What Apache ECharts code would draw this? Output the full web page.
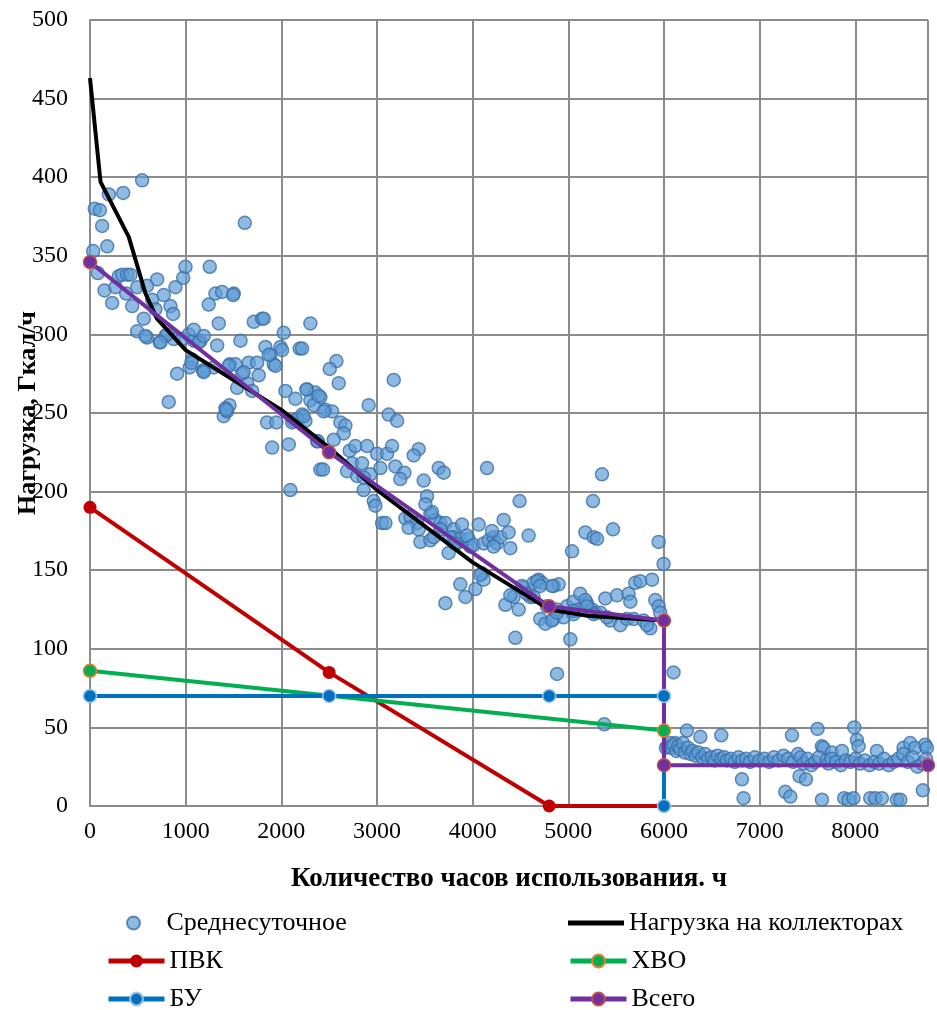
<!DOCTYPE html>
<html>
<head>
<meta charset="utf-8">
<script src="https://cdn.jsdelivr.net/npm/echarts@6/dist/echarts.min.js"></script>
<style>
html,body{margin:0;padding:0;background:#fff;}
#chart{width:937px;height:1010px;}
</style>
</head>
<body>
<div id="chart"></div>
<script>
// ---- data ----
const seriesNames = ['Среднесуточное', 'Нагрузка на коллекторах', 'ПВК', 'ХВО', 'БУ', 'Всего'];

const dailyPoints = [
  // 0-1000 h
  [545,398],[197,389],[347,390],[50,380],[103,379],[127,369],[180,356],[33,353],[82,339],[152,328],
  [232,320],[266,330],[301,337],[336,338],[389,338],[423,338],[378,326],[441,318],[493,330],[597,331],
  [702,335],[771,325],[493,302],[597,298],[562,310],[650,322],[684,316],[841,318],[869,313],[893,330],
  [974,336],[998,343],[729,295],[789,299],[876,297],[963,297],[911,275],[823,257],[807,300],[737,295],[580,299],
  // 1000-2000 h
  [1032,300],[1085,296],[1155,296],[1068,284],[1043,279],[1183,277],[1252,343],[1329,293],[1294,279],[1346,307],
  [1241,319],[1311,326],[1381,327],[1503,326],[1461,281],[1520,281],[1573,296],[1659,282],[1747,282],[1764,274],
  [1538,266],[1643,269],[1695,264],[1712,308],[1799,310],[1816,310],[1834,292],[1886,287],[1921,281],[1991,292],
  [1618,371],[1085,303],[1137,295],[1061,282],[1189,277],[1590,275],[1189,299],[1189,276],[1607,276],[1450,280],
  [1398,248],[1434,251],[1458,255],[1416,253],[1851,244],[1949,244],[1904,228],[1868,287],[1938,280],[1426,252],[1496,325],
  // 2000-3000 h
  [2025,301],[2192,291],[2304,307],[2043,264],[2147,259],[2270,265],[2356,263],[2217,291],[2576,283],[2506,278],
  [2600,269],[2408,260],[2304,258],[2913,255],[2461,252],[2531,251],[2078,230],[2095,201],[2130,245],[2217,249],
  [2252,245],[2339,255],[2374,232],[2408,214],[2008,290],[2113,244],[2165,246],[2234,248],[2443,251],[2618,244],
  [2670,242],[2652,237],[2436,214],[2381,232],[2548,233],[2715,226],[2774,229],[2896,229],[2687,213],[2740,218],
  [2844,218],[2792,210],[2931,211],[2861,201],[2966,194],[2983,191],[2861,209],[2391,261],[2262,265],
  // 3000-4000 h
  [3175,271],[3122,249],[3210,245],[3001,224],[3105,224],[3158,229],[3436,227],[3384,223],[3036,215],[3192,216],
  [3286,212],[3244,208],[3488,207],[3645,215],[3697,212],[3053,180],[3088,180],[3297,183],[3349,184],[3419,180],
  [3331,177],[3436,176],[3523,197],[3558,186],[3610,182],[3663,180],[3715,180],[3801,176],[3663,176],[3454,168],
  [3558,169],[3575,187],[3593,171],[3749,161],[3802,171],[3837,167],[3871,170],[3889,179],[3958,170],[3976,165],
  [3506,192],[3762,171],[3814,167],[3941,172],[3871,141],[3924,133],[3715,129],
  // 4000-5000 h
  [4010,166],[4063,179],[4115,167],[4167,169],[4219,171],[4255,167],[4290,171],[4324,182],[4376,174],[4394,164],
  [4491,194],[4585,172],[4150,215],[4202,175],[4219,165],[4028,138],[4098,148],[4115,144],[4080,147],[4342,128],
  [4428,133],[4481,125],[4394,134],[4533,139],[4603,133],[4637,142],[4690,144],[4725,142],[4777,127],[4847,140],
  [4899,141],[4446,107],[4882,84],[4707,119],[4760,116],[4847,119],[4986,127],[4951,120],[4516,140],[4568,135],
  [4637,133],[4672,143],[4707,140],[4830,140],[4830,118],[4882,125],[4882,123],
  // 5000-6000 h
  [5021,106],[5055,130],[5108,125],[5125,135],[5195,129],[5248,125],[5282,123],[5055,122],[5039,162],[5178,174],
  [5265,171],[5300,170],[5258,194],[5352,211],[5467,176],[5387,132],[5509,134],[5630,135],[5648,130],[5700,142],
  [5752,143],[5875,144],[5909,131],[5944,127],[5961,123],[5334,123],[5439,118],[5543,115],[5613,119],[5683,119],
  [5787,118],[5857,113],[5822,115],[5944,168],[5996,154],[5178,131],[5404,120],[5055,124],[5195,127],[5265,122],[5376,52],
  // 6000-8760 h
  [6100,85],[6066,38],[6118,40],[6240,48],[6380,44],[6599,45],[7338,45],[7605,49],[7989,50],[8017,42],
  [8034,38],[7651,38],[7668,37],[7755,34],[7860,35],[8226,35],[8504,37],[8574,40],[8626,37],[8730,39],
  [8748,37],[6815,17],[6832,5],[7268,9],[7320,6],[7417,19],[7484,17],[7651,4],[7884,5],[7929,4],
  [7981,5],[8156,5],[8208,5],[8278,5],[8435,4],[8470,4],[8706,10],
  [6020,37],[6040,38],[6060,40],[6080,37],[6100,39],[6130,35],[6150,38],[6170,36],[6200,40],[6220,34],
  [6250,37],[6280,33],[6300,35],[6330,32],[6360,34],[6400,31],[6430,33],[6460,30],[6500,31],[6530,29],
  [6560,32],[6600,30],[6630,31],[6660,29],[6700,30],[6740,28],[6780,31],[6820,29],[6860,30],[6900,28],
  [6950,31],[7000,29],[7050,30],[7100,28],[7150,31],[7200,29],[7250,32],[7300,30],[7350,28],[7400,33],
  [7430,31],[7460,27],[7500,30],[7540,26],[7580,28],[7620,31],[7700,29],[7720,27],[7750,30],[7800,28],
  [7850,26],[7900,29],[7950,28],[8000,30],[8050,27],[8100,29],[8150,26],[8200,28],[8250,27],[8300,30],
  [8350,26],[8400,28],[8450,30],[8500,33],[8550,28],[8600,31],[8650,25],[8700,27],[8740,30]
];

const collectorLoad = [[0,463],[110,397],[405,362],[580,326],[700,310],[1000,290],[1500,271],[2000,252],[2500,228],[3000,201],[3500,178],[4000,155],[4400,140],[4800,125],[5200,121],[6000,118]];
const pvk = [[0,190],[2500,85],[4800,0],[6000,0]];
const hvo = [[0,86],[6000,48]];
const bu = [[0,70],[2500,70],[4800,70],[6000,70],[6000,0]];
const total = [[0,346],[2500,225],[4800,127],[6000,118],[6000,26],[8760,26]];

const xTicks = {min: 0, max: 8760, step: 1000};
const yTicks = {min: 0, max: 500, step: 50};

// ---- chart ----
const FONT = 'Liberation Serif, Times New Roman, serif';
const chart = echarts.init(document.getElementById('chart'), null, {renderer: 'canvas'});

const lineSeries = (name, data, color, border) => ({
  name, type: 'line', data,
  symbol: 'circle', symbolSize: 13,
  lineStyle: {color, width: 4},
  itemStyle: {color, borderColor: border || color, borderWidth: border ? 1.5 : 0},
  emphasis: {disabled: true}
});

// one legend box per entry: two columns, three rows
const legendCols = [106, 568];
const legendRows = [910, 948, 986];
const legendOrder = [[0, 1], [2, 3], [4, 5]]; // [row][col] -> series index
const legends = [];
legendOrder.forEach((row, r) => row.forEach((si, c) => {
  const isScatter = si === 0, isPlainLine = si === 1;
  legends.push({
    data: [isPlainLine ? {name: seriesNames[si], icon: 'rect'} : seriesNames[si]],
    orient: 'horizontal',
    left: legendCols[c] + (isScatter ? 20 : 0), top: legendRows[r],
    padding: 0, itemWidth: 56, itemHeight: isScatter ? 13 : (isPlainLine ? 5 : 16),
    lineStyle: {width: 5},
    textStyle: {fontFamily: FONT, fontSize: 26, color: '#000', lineHeight: 26},
    selectedMode: false
  });
}));

chart.setOption({
  animation: false,
  backgroundColor: '#ffffff',
  grid: {left: 90, right: 9, top: 20, bottom: 204, containLabel: false, outerBoundsMode: 'none'},
  xAxis: {
    type: 'value', min: xTicks.min, max: xTicks.max, interval: xTicks.step,
    name: 'Количество часов использования. ч',
    nameLocation: 'middle', nameGap: 60, nameMoveOverlap: false,
    nameTextStyle: {fontFamily: FONT, fontSize: 27, fontWeight: 'bold', color: '#000'},
    axisLine: {show: true, lineStyle: {color: '#8c8c8c', width: 2}},
    axisTick: {show: false},
    axisLabel: {fontFamily: FONT, fontSize: 24, color: '#000', margin: 14, showMaxLabel: false,
      formatter: v => (v % 1000 === 0 ? String(v) : '')},
    splitLine: {show: true, lineStyle: {color: '#8c8c8c', width: 2}}
  },
  yAxis: {
    type: 'value', min: yTicks.min, max: yTicks.max, interval: yTicks.step,
    name: 'Нагрузка, Гкал/ч',
    nameLocation: 'middle', nameGap: 49, nameRotate: 90, nameMoveOverlap: false,
    nameTextStyle: {fontFamily: FONT, fontSize: 26, fontWeight: 'bold', color: '#000'},
    axisLine: {show: true, lineStyle: {color: '#8c8c8c', width: 2}},
    axisTick: {show: false},
    axisLabel: {fontFamily: FONT, fontSize: 24, color: '#000', margin: 22},
    splitLine: {show: true, lineStyle: {color: '#8c8c8c', width: 2}}
  },
  legend: legends,
  series: [
    lineSeries(seriesNames[2], pvk, '#C00000'),
    lineSeries(seriesNames[3], hvo, '#00B050', '#ED7D31'),
    lineSeries(seriesNames[4], bu, '#0070C0', '#9DC3E6'),
    {name: seriesNames[1], type: 'line', data: collectorLoad, symbol: 'none',
     lineStyle: {color: '#000000', width: 4}, itemStyle: {color: '#000000'}, emphasis: {disabled: true}},
    lineSeries(seriesNames[5], total, '#7030A0', '#C0504D'),
    {name: seriesNames[0], type: 'scatter', data: dailyPoints, symbol: 'circle', symbolSize: 13,
     itemStyle: {color: 'rgba(91,155,213,0.85)', borderColor: '#3D6FA8', borderWidth: 1.5},
     emphasis: {disabled: true}}
  ]
});
</script>
</body>
</html>
